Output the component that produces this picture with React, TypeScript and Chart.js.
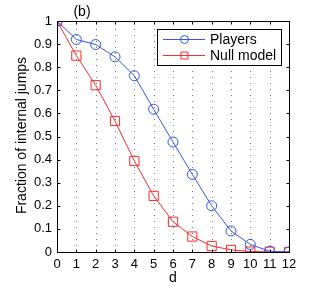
import React, { useEffect, useRef } from "react";
import { Chart, registerables } from "chart.js";

Chart.register(...registerables);

const dValues = [0, 1, 2, 3, 4, 5, 6, 7, 8, 9, 10, 11, 12];
const playersValues = [1, 0.92, 0.898, 0.845, 0.763, 0.618, 0.476, 0.336, 0.2, 0.091, 0.033, 0.003, 0];
const nullModelValues = [1, 0.85, 0.722, 0.567, 0.394, 0.243, 0.131, 0.067, 0.026, 0.009, 0.002, 0.001, 0];
const xTicks = [0, 1, 2, 3, 4, 5, 6, 7, 8, 9, 10, 11, 12];
const yTicks = [0, 0.1, 0.2, 0.3, 0.4, 0.5, 0.6, 0.7, 0.8, 0.9, 1];
const seriesNames = ["Players", "Null model"];
const panelLabel = "(b)";
const xTitle = "d";
const yTitle = "Fraction of internal jumps";

const BLUE = "#3355ee";
const RED = "#ff2a2a";
const FONT = "Liberation Sans, Arial, Helvetica, sans-serif";

const framePlugin = {
  id: "frame",
  beforeDatasetsDraw(chart: any) {
    const { ctx, chartArea: a, scales } = chart;
    const xs = scales.x;
    ctx.save();
    ctx.strokeStyle = "#777";
    ctx.lineWidth = 1;
    ctx.setLineDash([1, 5]);
    xTicks.forEach((t) => {
      const px = Math.round(xs.getPixelForValue(t)) + 0.5;
      ctx.beginPath();
      ctx.moveTo(px, a.top + 2);
      ctx.lineTo(px, a.bottom);
      ctx.stroke();
    });
    ctx.setLineDash([]);
    ctx.restore();
  },
  afterDatasetsDraw(chart: any) {
    const { ctx, chartArea: a, scales } = chart;
    const xs = scales.x;
    const ys = scales.y;
    ctx.save();
    ctx.strokeStyle = "#000";
    ctx.lineWidth = 1;
    const L = Math.round(a.left) + 0.5;
    const R = Math.round(a.right) + 0.5;
    const T = Math.round(a.top) + 0.5;
    const B = Math.round(a.bottom) + 0.5;
    ctx.strokeRect(L, T, R - L, B - T);
    const tl = 3;
    ctx.beginPath();
    xTicks.forEach((t) => {
      const px = Math.round(xs.getPixelForValue(t)) + 0.5;
      ctx.moveTo(px, B);
      ctx.lineTo(px, B - tl);
      ctx.moveTo(px, T);
      ctx.lineTo(px, T + tl);
    });
    yTicks.forEach((t) => {
      const py = Math.round(ys.getPixelForValue(t)) + 0.5;
      ctx.moveTo(L, py);
      ctx.lineTo(L + tl, py);
      ctx.moveTo(R, py);
      ctx.lineTo(R - tl, py);
    });
    ctx.stroke();

    ctx.fillStyle = "#000";
    ctx.font = `14px ${FONT}`;
    ctx.textAlign = "center";
    ctx.textBaseline = "middle";
    ctx.fillText(panelLabel, 82, 12);
    ctx.fillText(xTitle, (a.left + a.right) / 2, 278);
    ctx.save();
    ctx.translate(22, 135.5);
    ctx.rotate(-Math.PI / 2);
    ctx.fillText(yTitle, 0, 0);
    ctx.restore();

    const bx = 157.5, by = 29.5, bw = 124, bh = 36;
    ctx.fillStyle = "#fff";
    ctx.fillRect(bx, by, bw, bh);
    ctx.strokeStyle = "#000";
    ctx.strokeRect(bx, by, bw, bh);
    const rows = [
      { y: 39.5, color: BLUE, shape: "circle", name: seriesNames[0] },
      { y: 55.5, color: RED, shape: "square", name: seriesNames[1] },
    ];
    rows.forEach((r) => {
      ctx.strokeStyle = r.color;
      ctx.lineWidth = 1;
      ctx.beginPath();
      ctx.moveTo(163, r.y);
      ctx.lineTo(205, r.y);
      ctx.stroke();
      ctx.beginPath();
      if (r.shape === "circle") {
        ctx.arc(184.5, r.y, 4, 0, Math.PI * 2);
      } else {
        ctx.rect(181, r.y - 3.5, 7, 7);
      }
      ctx.stroke();
      ctx.fillStyle = "#000";
      ctx.textAlign = "left";
      ctx.textBaseline = "middle";
      ctx.font = `14px ${FONT}`;
      ctx.fillText(r.name, 210, r.y + 0.5);
    });
    ctx.restore();
  },
};

export default function App() {
  const ref = useRef<HTMLCanvasElement>(null);
  useEffect(() => {
    document.body.style.margin = "0";
    const canvas = ref.current!;
    const chart = new Chart(canvas, {
      type: "line",
      data: {
        datasets: [
          {
            label: seriesNames[0],
            data: dValues.map((d, i) => ({ x: d, y: playersValues[i] })),
            borderColor: BLUE,
            backgroundColor: "rgba(0,0,0,0)",
            borderWidth: 1,
            pointStyle: "circle",
            pointRadius: 5,
            pointBorderWidth: 1,
            pointBorderColor: BLUE,
            pointBackgroundColor: "rgba(0,0,0,0)",
            tension: 0,
          },
          {
            label: seriesNames[1],
            data: dValues.map((d, i) => ({ x: d, y: nullModelValues[i] })),
            borderColor: RED,
            backgroundColor: "rgba(0,0,0,0)",
            borderWidth: 1,
            pointStyle: "rect",
            pointRadius: 6.5,
            pointBorderWidth: 1,
            pointBorderColor: RED,
            pointBackgroundColor: "rgba(0,0,0,0)",
            tension: 0,
          },
        ],
      },
      options: {
        animation: false,
        responsive: false,
        devicePixelRatio: 1,
        layout: { padding: { top: 21, right: 45, left: 0, bottom: 0 } },
        plugins: { legend: { display: false }, tooltip: { enabled: false }, title: { display: false } },
        scales: {
          x: {
            type: "linear",
            min: 0,
            max: 12,
            grid: { display: false, drawTicks: false },
            border: { display: false },
            afterFit: (s: any) => { s.height = 37; },
            afterBuildTicks: (s: any) => { s.ticks = xTicks.map((v) => ({ value: v })); },
            ticks: {
              padding: 5,
              color: "#000",
              font: { family: FONT, size: 13 },
              maxRotation: 0,
              autoSkip: false,
              callback: (v: any) => String(v),
            },
          },
          y: {
            type: "linear",
            min: 0,
            max: 1,
            grid: { display: false, drawTicks: false },
            border: { display: false },
            afterFit: (s: any) => { s.width = 57; },
            afterBuildTicks: (s: any) => { s.ticks = yTicks.map((v) => ({ value: v })); },
            ticks: {
              padding: 5,
              color: "#000",
              font: { family: FONT, size: 13 },
              autoSkip: false,
              callback: (v: any) => (v === 0 ? "0" : v === 1 ? "1" : Number(v).toFixed(1)),
            },
          },
        },
      },
      plugins: [framePlugin],
    });
    return () => chart.destroy();
  }, []);
  return <canvas ref={ref} width={334} height={289} style={{ display: "block", width: 334, height: 289 }} />;
}
